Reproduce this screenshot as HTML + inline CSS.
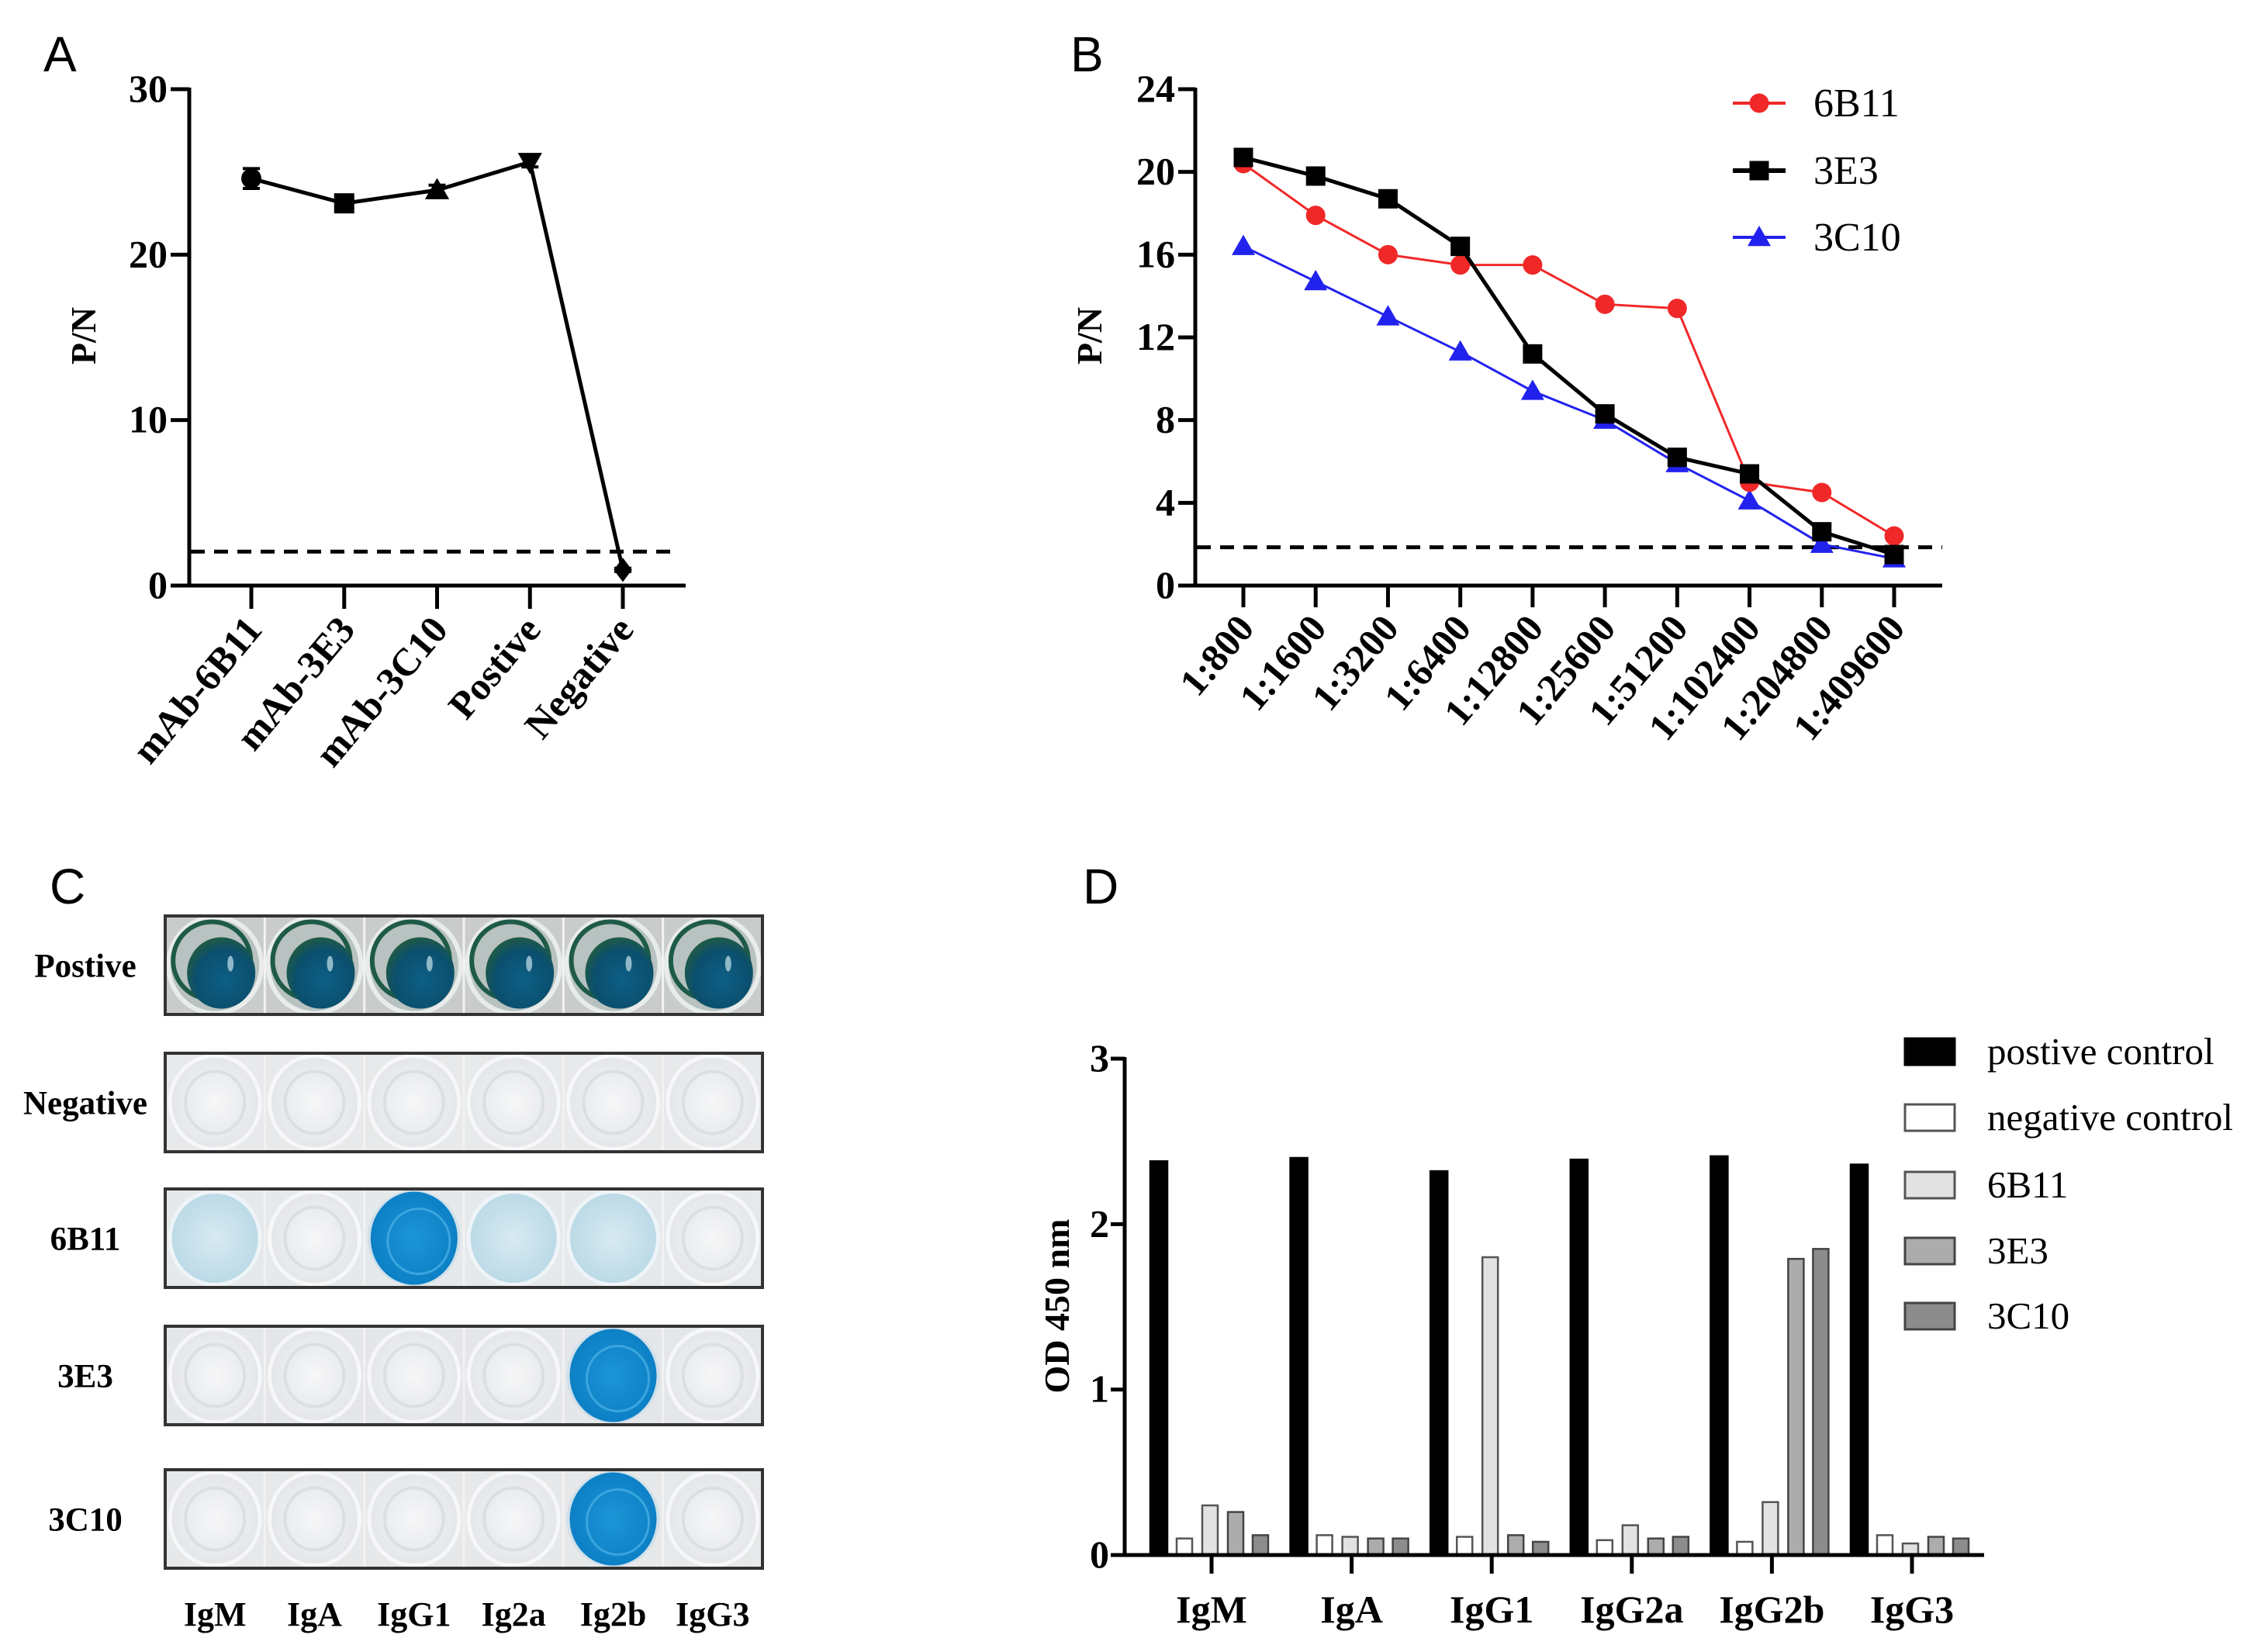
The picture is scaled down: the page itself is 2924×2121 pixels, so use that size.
<!DOCTYPE html>
<html><head><meta charset="utf-8">
<style>
html,body{margin:0;padding:0;background:#fff;}
svg{display:block;}
text{font-family:"Liberation Serif",serif;}
.sans{font-family:"Liberation Sans",sans-serif;}
</style></head>
<body>
<svg id="fig" width="2924" height="2121" viewBox="0 0 2924 2121" xmlns="http://www.w3.org/2000/svg">
<defs>
<radialGradient id="gPos" cx="0.55" cy="0.6" r="0.6"><stop offset="0" stop-color="#0d5f86"/><stop offset="0.7" stop-color="#0b4f6e"/><stop offset="1" stop-color="#1f5a45"/></radialGradient>
<radialGradient id="gNeg" cx="0.5" cy="0.5" r="0.6"><stop offset="0" stop-color="#f6f7f8"/><stop offset="1" stop-color="#e0e2e5"/></radialGradient>
<radialGradient id="gLight" cx="0.5" cy="0.5" r="0.6"><stop offset="0" stop-color="#d8eaf2"/><stop offset="1" stop-color="#b5d6e4"/></radialGradient>
<radialGradient id="gBlue" cx="0.5" cy="0.5" r="0.6"><stop offset="0" stop-color="#1c95d6"/><stop offset="1" stop-color="#0a7cc2"/></radialGradient>
</defs>
<g id="panelA"></g>
<g id="panelB"></g>
<g id="panelC"></g>
<g id="panelD"></g>
</svg>
<script>
// ---------- Panel A data ----------
const aCategories = ["mAb-6B11","mAb-3E3","mAb-3C10","Postive","Negative"];
const aValues = [24.6, 23.1, 23.9, 25.6, 0.95];
const aErrors = [0.6, 0.4, 0.3, 0.3, 0.1];
const aMarkers = ["circle","square","triangle","down","diamond"];
const aTicks = [0, 10, 20, 30];
const aCutoff = 2.05;

// ---------- Panel B data ----------
const bCategories = ["1:800","1:1600","1:3200","1:6400","1:12800","1:25600","1:51200","1:102400","1:204800","1:409600"];
const b6B11 = [20.4, 17.9, 16.0, 15.5, 15.5, 13.6, 13.4, 5.0, 4.5, 2.4];
const b3E3 = [20.7, 19.8, 18.7, 16.4, 11.2, 8.3, 6.2, 5.4, 2.6, 1.5];
const b3C10 = [16.4, 14.7, 13.0, 11.3, 9.4, 8.0, 5.9, 4.1, 2.0, 1.3];
const bSeriesNames = ["6B11","3E3","3C10"];
const bTicks = [0, 4, 8, 12, 16, 20, 24];
const bCutoff = 1.85;

// ---------- Panel C data ----------
const cRows = ["Postive","Negative","6B11","3E3","3C10"];
const cCols = ["IgM","IgA","IgG1","Ig2a","Ig2b","IgG3"];
const cWells = [
  [3,3,3,3,3,3],
  [0,0,0,0,0,0],
  [1,0,2,1,1,0],
  [0,0,0,0,2,0],
  [0,0,0,0,2,0]
];

// ---------- Panel D data ----------
const dGroups = ["IgM","IgA","IgG1","IgG2a","IgG2b","IgG3"];
const dSeriesNames = ["postive control","negative control","6B11","3E3","3C10"];
const dPositive = [2.38, 2.40, 2.32, 2.39, 2.41, 2.36];
const dNegative = [0.10, 0.12, 0.11, 0.09, 0.08, 0.12];
const d6B11 = [0.30, 0.11, 1.80, 0.18, 0.32, 0.07];
const d3E3 = [0.26, 0.10, 0.12, 0.10, 1.79, 0.11];
const d3C10 = [0.12, 0.10, 0.08, 0.11, 1.85, 0.10];
const dTicks = [0, 1, 2, 3];

const NS = "http://www.w3.org/2000/svg";
function mk(parent, tag, attrs, txt){
  const e = document.createElementNS(NS, tag);
  for (const k in attrs) e.setAttribute(k, attrs[k]);
  if (txt !== undefined) e.textContent = txt;
  parent.appendChild(e);
  return e;
}
function marker(g, type, x, y, s, color){
  let e;
  if (type === "circle") e = mk(g, "circle", {cx:x, cy:y, r:s*0.5, fill:color});
  else if (type === "square") e = mk(g, "rect", {x:x-s*0.5, y:y-s*0.5, width:s, height:s, fill:color});
  else if (type === "triangle") e = mk(g, "polygon", {points:`${x},${y-s*0.6} ${x-s*0.6},${y+s*0.45} ${x+s*0.6},${y+s*0.45}`, fill:color});
  else if (type === "down") e = mk(g, "polygon", {points:`${x-s*0.6},${y-s*0.45} ${x+s*0.6},${y-s*0.45} ${x},${y+s*0.6}`, fill:color});
  else e = mk(g, "polygon", {points:`${x},${y-s*0.6} ${x+s*0.45},${y} ${x},${y+s*0.6} ${x-s*0.45},${y}`, fill:color});
  return e;
}

// ================= Panel A =================
(function(){
  const g = document.getElementById("panelA");
  const x0 = 244, x1 = 884, yTop = 115, yBot = 755;
  const catX = [324, 444, 562, 683, 803];
  const xs = i => catX[0] + i * (catX[4]-catX[0]) / (aCategories.length-1);
  const ys = v => yBot - (v - 0) / 30 * (yBot - yTop);
  let t = mk(g, "text", {x:56, y:92, "font-size":64, class:"sans"}, "A");
  
  
  let ax = mk(g, "line", {x1:x0, y1:yTop-2, x2:x0, y2:yBot+2, stroke:"#000", "stroke-width":5});
  
  
  ax = mk(g, "line", {x1:x0-2, y1:yBot, x2:x1, y2:yBot, stroke:"#000", "stroke-width":5});
  
  
  aTicks.forEach(v => {
    const y = ys(v);
    mk(g, "line", {x1:x0-24, y1:y, x2:x0, y2:y, stroke:"#000", "stroke-width":5});
    const tl = mk(g, "text", {x:x0-28, y:y+16, "font-size":50, "font-weight":"bold", "text-anchor":"end"}, v);
    
    
  });
  const yt = mk(g, "text", {x:0, y:0, "font-size":46, "font-weight":"bold", "text-anchor":"middle", transform:"translate(123,433) rotate(-90)"}, "P/N");
  
  
  const dl = mk(g, "line", {x1:x0+2, y1:ys(aCutoff), x2:x1-20, y2:ys(aCutoff), stroke:"#000", "stroke-width":5, "stroke-dasharray":"18,12"});
  
  
  aCategories.forEach((c, i) => {
    const x = xs(i);
    mk(g, "line", {x1:x, y1:yBot, x2:x, y2:yBot+30, stroke:"#000", "stroke-width":5});
    const tl = mk(g, "text", {x:0, y:0, "font-size":50, "font-weight":"bold", "text-anchor":"end", transform:`translate(${x+16},${yBot+58}) rotate(-50)`}, c);
    
    
  });
  const pts = aValues.map((v, i) => `${xs(i)},${ys(v)}`).join(" ");
  const ln = mk(g, "polyline", {points:pts, fill:"none", stroke:"#000", "stroke-width":5});
  
  
  aValues.forEach((v, i) => {
    const x = xs(i), y = ys(v);
    const e = aErrors[i];
    mk(g, "line", {x1:x, y1:ys(v+e), x2:x, y2:ys(v-e), stroke:"#000", "stroke-width":4});
    mk(g, "line", {x1:x-11, y1:ys(v+e), x2:x+11, y2:ys(v+e), stroke:"#000", "stroke-width":4});
    mk(g, "line", {x1:x-11, y1:ys(v-e), x2:x+11, y2:ys(v-e), stroke:"#000", "stroke-width":4});
    const m = marker(g, aMarkers[i], x, y, 26, "#000");
    
    
  });
})();

// ================= Panel B =================
(function(){
  const g = document.getElementById("panelB");
  const x0 = 1541, x1 = 2504, yTop = 115, yBot = 755;
  const cx0 = 1603, cx1 = 2442;
  const xs = i => cx0 + i * (cx1 - cx0) / (bCategories.length - 1);
  const ys = v => yBot - v / 24 * (yBot - yTop);
  let t = mk(g, "text", {x:1380, y:92, "font-size":64, class:"sans"}, "B");
  
  
  let ax = mk(g, "line", {x1:x0, y1:yTop-2, x2:x0, y2:yBot+2, stroke:"#000", "stroke-width":5});
  
  
  ax = mk(g, "line", {x1:x0-2, y1:yBot, x2:x1, y2:yBot, stroke:"#000", "stroke-width":5});
  
  
  bTicks.forEach(v => {
    const y = ys(v);
    mk(g, "line", {x1:x0-22, y1:y, x2:x0, y2:y, stroke:"#000", "stroke-width":5});
    const tl = mk(g, "text", {x:x0-26, y:y+16, "font-size":50, "font-weight":"bold", "text-anchor":"end"}, v);
    
    
  });
  const yt = mk(g, "text", {x:0, y:0, "font-size":46, "font-weight":"bold", "text-anchor":"middle", transform:"translate(1420,433) rotate(-90)"}, "P/N");
  
  
  const dl = mk(g, "line", {x1:x0+2, y1:ys(bCutoff), x2:x1, y2:ys(bCutoff), stroke:"#000", "stroke-width":5, "stroke-dasharray":"18,12"});
  
  
  bCategories.forEach((c, i) => {
    const x = xs(i);
    mk(g, "line", {x1:x, y1:yBot, x2:x, y2:yBot+28, stroke:"#000", "stroke-width":5});
    const tl = mk(g, "text", {x:0, y:0, "font-size":50, "font-weight":"bold", "text-anchor":"end", transform:`translate(${x+16},${yBot+56}) rotate(-50)`}, c);
    
    
  });
  const series = [b6B11, b3E3, b3C10];
  const colors = ["#f02828", "#000000", "#2222ee"];
  const mks = ["circle", "square", "triangle"];
  const widths = [3, 5, 3];
  [2, 0, 1].forEach(si => {
    const vals = series[si];
    const ln = mk(g, "polyline", {points:vals.map((v, i) => `${xs(i)},${ys(v)}`).join(" "), fill:"none", stroke:colors[si], "stroke-width":widths[si]});
    
    
    vals.forEach((v, i) => {
      const m = marker(g, mks[si], xs(i), ys(v), 25, colors[si]);
      
      
    });
  });
  const ly = [133, 220, 306];
  bSeriesNames.forEach((n, si) => {
    const lg = mk(g, "g", {});
    
    
    mk(lg, "line", {x1:2234, y1:ly[si], x2:2302, y2:ly[si], stroke:colors[si], "stroke-width":widths[si]+1});
    marker(lg, mks[si], 2268, ly[si], 25, colors[si]);
    mk(lg, "text", {x:2338, y:ly[si]+17, "font-size":52}, n);
  });
})();

// ================= Panel C =================
(function(){
  const g = document.getElementById("panelC");
  let t = mk(g, "text", {x:64, y:1165, "font-size":64, class:"sans"}, "C");
  
  
  const rowTop = [1181, 1358, 1533, 1710, 1895];
  const rowH = 127, sx = 213, sw = 770;
  const cw = sw / 6;
  const bg = ["#c9cccb", "#e8e9eb", "#e6e9eb", "#e4e6e9", "#e6e8ea"];
  rowTop.forEach((ry, r) => {
    const rg = mk(g, "g", {});
    
    
    mk(rg, "rect", {x:sx, y:ry, width:sw, height:rowH, fill:bg[r]});
    cWells[r].forEach((w, c) => {
      const cx = sx + cw * (c + 0.5), cy = ry + rowH / 2;
      const well = mk(rg, "g", {});
      
      
      if (w === 3) {
        mk(well, "ellipse", {cx:cx, cy:cy, rx:60, ry:62, fill:"#b8c2c0", stroke:"#e8eceb", "stroke-width":6});
        mk(well, "ellipse", {cx:cx-4, cy:cy-6, rx:50, ry:50, fill:"none", stroke:"#1e5a48", "stroke-width":6});
        mk(well, "ellipse", {cx:cx+8, cy:cy+10, rx:44, ry:46, fill:"url(#gPos)"});
        mk(well, "ellipse", {cx:cx+20, cy:cy-2, rx:4, ry:10, fill:"#8fb8c8"});
      } else if (w === 2) {
        mk(well, "ellipse", {cx:cx, cy:cy, rx:60, ry:62, fill:"#cfe0ea"});
        mk(well, "ellipse", {cx:cx, cy:cy, rx:56, ry:60, fill:"url(#gBlue)"});
        mk(well, "ellipse", {cx:cx+6, cy:cy+4, rx:40, ry:42, fill:"none", stroke:"#3aa6de", "stroke-width":3});
      } else if (w === 1) {
        mk(well, "ellipse", {cx:cx, cy:cy, rx:58, ry:60, fill:"url(#gLight)", stroke:"#eef4f7", "stroke-width":5});
        mk(well, "ellipse", {cx:cx, cy:cy, rx:38, ry:40, fill:"none", stroke:"#c5dfe9", "stroke-width":4});
      } else {
        mk(well, "ellipse", {cx:cx, cy:cy, rx:58, ry:60, fill:"url(#gNeg)", stroke:"#f6f7f8", "stroke-width":5});
        mk(well, "ellipse", {cx:cx, cy:cy, rx:38, ry:40, fill:"none", stroke:"#dcdfe2", "stroke-width":4});
      }
      mk(rg, "line", {x1:sx + cw * (c + 1), y1:ry, x2:sx + cw * (c + 1), y2:ry + rowH, stroke:"#f2f2f2", "stroke-width":3});
    });
    mk(rg, "rect", {x:sx, y:ry, width:sw, height:rowH, fill:"none", stroke:"#333", "stroke-width":4});
    const rl = mk(g, "text", {x:110, y:ry + rowH / 2 + 15, "font-size":43, "font-weight":"bold", "text-anchor":"middle"}, cRows[r]);
    
    
  });
  cCols.forEach((c, i) => {
    const cl = mk(g, "text", {x:sx + cw * (i + 0.5), y:2096, "font-size":44, "font-weight":"bold", "text-anchor":"middle"}, c);
    
    
  });
})();

// ================= Panel D =================
(function(){
  const g = document.getElementById("panelD");
  const x0 = 1450, x1 = 2558, yTop = 1365, yBot = 2005;
  const gx0 = 1562, gx1 = 2465;
  const gx = i => gx0 + i * (gx1 - gx0) / (dGroups.length - 1);
  const ys = v => yBot - v / 3 * (yBot - yTop);
  let t = mk(g, "text", {x:1396, y:1165, "font-size":64, class:"sans"}, "D");
  
  
  const series = [dPositive, dNegative, d6B11, d3E3, d3C10];
  const fills = ["#000", "#fff", "#e2e2e2", "#acacac", "#8c8c8c"];
  const strokes = ["#000", "#555", "#555", "#444", "#444"];
  const offs = [-68, -35, -2, 31, 63];
  series.forEach((vals, si) => {
    vals.forEach((v, i) => {
      const bw = si === 0 ? 22 : 20;
      const b = mk(g, "rect", {x:gx(i) + offs[si] - bw / 2, y:ys(v), width:bw, height:yBot - ys(v), fill:fills[si], stroke:strokes[si], "stroke-width":2.5});
      
      
    });
  });
  let ax = mk(g, "line", {x1:x0, y1:yTop - 2, x2:x0, y2:yBot + 2, stroke:"#000", "stroke-width":5});
  
  
  ax = mk(g, "line", {x1:x0 - 2, y1:yBot, x2:x1, y2:yBot, stroke:"#000", "stroke-width":5});
  
  
  dTicks.forEach(v => {
    const y = ys(v);
    mk(g, "line", {x1:x0 - 18, y1:y, x2:x0, y2:y, stroke:"#000", "stroke-width":5});
    const tl = mk(g, "text", {x:x0 - 20, y:y + 16, "font-size":50, "font-weight":"bold", "text-anchor":"end"}, v);
    
    
  });
  const yt = mk(g, "text", {x:0, y:0, "font-size":46, "font-weight":"bold", "text-anchor":"middle", transform:"translate(1378,1684) rotate(-90)"}, "OD 450 nm");
  
  
  dGroups.forEach((c, i) => {
    mk(g, "line", {x1:gx(i), y1:yBot, x2:gx(i), y2:yBot + 24, stroke:"#000", "stroke-width":5});
    const tl = mk(g, "text", {x:gx(i), y:2092, "font-size":50, "font-weight":"bold", "text-anchor":"middle"}, c);
    
    
  });
  const ly = [1356, 1441, 1528, 1613, 1697];
  dSeriesNames.forEach((n, si) => {
    const lg = mk(g, "g", {});
    
    
    mk(lg, "rect", {x:2456, y:ly[si] - 17, width:64, height:34, fill:fills[si], stroke:strokes[si], "stroke-width":3});
    mk(lg, "text", {x:2562, y:ly[si] + 16, "font-size":49}, n);
  });
})();
</script>
</body></html>
